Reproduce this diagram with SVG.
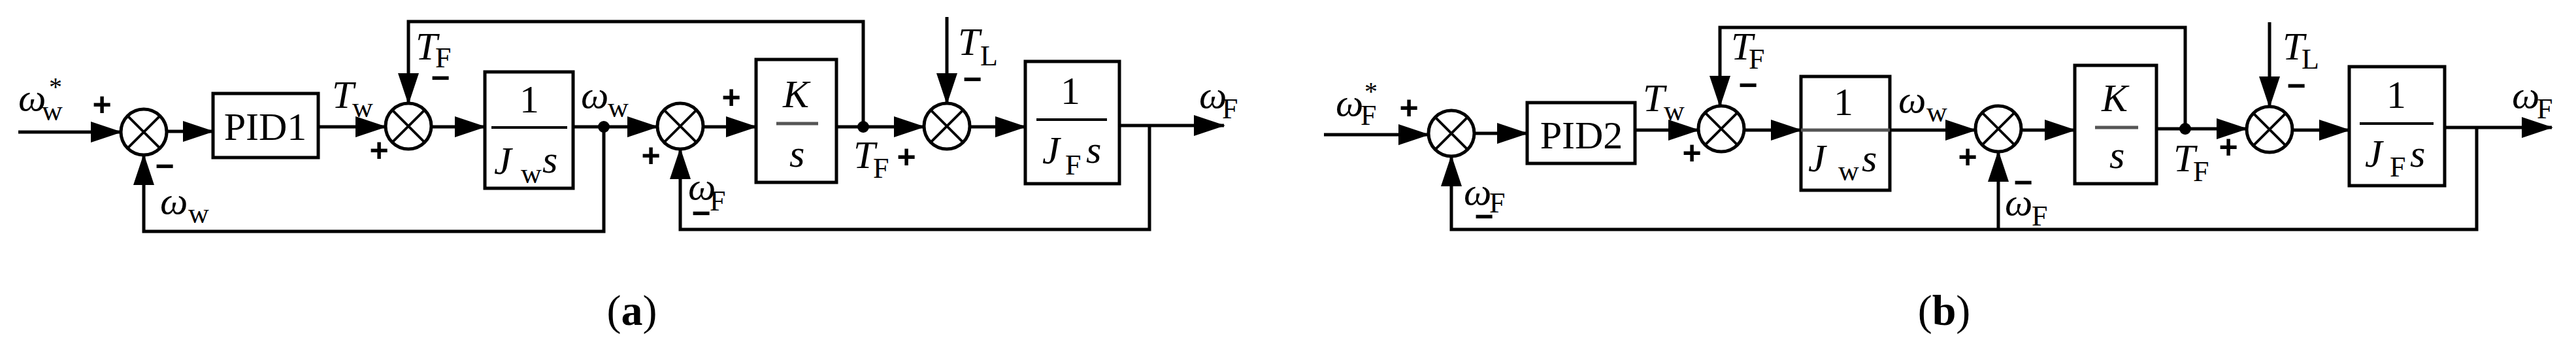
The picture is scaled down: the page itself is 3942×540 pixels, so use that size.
<svg xmlns="http://www.w3.org/2000/svg" xmlns:xlink="http://www.w3.org/1999/xlink" width="3942" height="540" viewBox="0 0 3942 540">
<style>
.ln{fill:none;stroke:#000;stroke-width:5}
.ar{marker-end:url(#ah)}
.box{fill:#fff;stroke:#000;stroke-width:5}
.fr{stroke:#000;stroke-width:4}
.frg{stroke:#555;stroke-width:5}
.t{font-family:"Liberation Serif","Times New Roman",serif;font-size:60px;fill:#000}
.i{font-style:italic}
.sb{font-size:44px;font-style:normal}
.st{font-size:40px;font-style:normal}
.sg{font-family:"Liberation Sans",Arial,sans-serif;font-size:50px;font-weight:bold;fill:#000;text-anchor:middle}
.cap{font-family:"Liberation Serif","Times New Roman",serif;font-size:66px;fill:#000;text-anchor:middle}
</style>
<defs>
<marker id="ah" markerUnits="userSpaceOnUse" markerWidth="48" markerHeight="32" refX="46" refY="16" orient="auto" overflow="visible">
<path d="M0,0 L48,16 L0,32 z" fill="#000"/>
</marker>
<g id="sumj">
<circle r="35" fill="#fff" stroke="#000" stroke-width="5"/>
<path d="M-24.7,-24.7 L24.7,24.7 M24.7,-24.7 L-24.7,24.7" stroke="#000" stroke-width="4"/>
</g>
</defs>
<rect width="3942" height="540" fill="#fff"/>

<!-- ===== (a) connectors ===== -->
<g id="a-connectors">
<path class="ln ar" d="M28,202 H185"/>
<path class="ln ar" d="M255,201 H326"/>
<path class="ln ar" d="M487,194 H590"/>
<path class="ln ar" d="M1321,194 V33 H625 V158"/>
<path class="ln ar" d="M660,194 H742"/>
<path class="ln ar" d="M877,194 H1006"/>
<path class="ln ar" d="M924,194 V354 H220 V237"/>
<path class="ln ar" d="M1076,194 H1157"/>
<path class="ln ar" d="M1280,194 H1414"/>
<path class="ln ar" d="M1449,26 V158"/>
<path class="ln ar" d="M1484,194 H1569"/>
<path class="ln ar" d="M1713,192 H1873"/>
<path class="ln ar" d="M1759,192 V351 H1041 V228"/>
<circle cx="924" cy="194" r="9" fill="#000"/>
<circle cx="1321" cy="194" r="9" fill="#000"/>
</g>

<!-- ===== (a) nodes ===== -->
<g id="a-sum1"><use xlink:href="#sumj" x="220" y="202"/></g>
<g id="a-pid1">
<rect class="box" x="326" y="143" width="161" height="98"/>
<text class="t" x="406" y="214" text-anchor="middle">PID1</text>
</g>
<g id="a-sum2"><use xlink:href="#sumj" x="625" y="193"/></g>
<g id="a-jw">
<rect class="box" x="742" y="110" width="135" height="178"/>
<line class="fr" x1="752" y1="195" x2="868" y2="195"/>
<text class="t" x="810" y="172" text-anchor="middle">1</text>
<text class="t"><tspan class="i" x="756" y="266">J</tspan><tspan class="sb" x="797" y="280">w</tspan><tspan class="i" x="830" y="264">s</tspan></text>
</g>
<g id="a-sum3"><use xlink:href="#sumj" x="1041" y="193"/></g>
<g id="a-ks">
<rect class="box" x="1157" y="91" width="123" height="188"/>
<line class="frg" x1="1188" y1="189" x2="1252" y2="189"/>
<text class="t i" x="1198" y="164">K</text>
<text class="t i" x="1208" y="255">s</text>
</g>
<g id="a-sum4"><use xlink:href="#sumj" x="1449" y="193"/></g>
<g id="a-jf">
<rect class="box" x="1569" y="94" width="144" height="187"/>
<line class="fr" x1="1586" y1="183" x2="1694" y2="183"/>
<text class="t" x="1638" y="159" text-anchor="middle">1</text>
<text class="t"><tspan class="i" x="1595" y="250">J</tspan><tspan class="sb" x="1630" y="267">F</tspan><tspan class="i" x="1662" y="249">s</tspan></text>
</g>

<!-- (a) labels -->
<g id="a-labels">
<text class="t"><tspan class="i" x="28" y="169">ω</tspan><tspan class="st" x="75" y="146">*</tspan><tspan class="sb" x="64" y="184">w</tspan></text>
<text class="sg" x="156" y="177">+</text>
<text class="sg" x="252" y="271">−</text>
<text class="t"><tspan class="i" x="245" y="327">ω</tspan><tspan class="sb" x="288" y="341">w</tspan></text>
<text class="t"><tspan class="i" x="508" y="165">T</tspan><tspan class="sb" x="539" y="179">w</tspan></text>
<text class="sg" x="580" y="247">+</text>
<text class="t"><tspan class="i" x="636" y="91">T</tspan><tspan class="sb" x="666" y="103">F</tspan></text>
<text class="sg" x="674" y="136">−</text>
<text class="t"><tspan class="i" x="889" y="165">ω</tspan><tspan class="sb" x="930" y="179">w</tspan></text>
<text class="sg" x="996" y="255">+</text>
<text class="sg" x="1119" y="166">+</text>
<text class="t"><tspan class="i" x="1053" y="305">ω</tspan><tspan class="sb" x="1086" y="322">F</tspan></text>
<text class="sg" x="1073" y="343">−</text>
<text class="t"><tspan class="i" x="1306" y="257">T</tspan><tspan class="sb" x="1336" y="272">F</tspan></text>
<text class="sg" x="1387" y="257">+</text>
<text class="t"><tspan class="i" x="1466" y="84">T</tspan><tspan class="sb" x="1500" y="100">L</tspan></text>
<text class="sg" x="1488" y="138">−</text>
<text class="t"><tspan class="i" x="1835" y="165">ω</tspan><tspan class="sb" x="1870" y="181">F</tspan></text>
<text class="cap" x="967" y="497">(<tspan font-weight="bold">a</tspan>)</text>
</g>

<!-- ===== (b) connectors ===== -->
<g id="b-connectors">
<path class="ln ar" d="M2026,206 H2186"/>
<path class="ln ar" d="M2256,204 H2337"/>
<path class="ln ar" d="M2502,199 H2599"/>
<path class="ln ar" d="M3344,198 V42 H2632 V162"/>
<path class="ln ar" d="M2669,199 H2756"/>
<path class="ln ar" d="M2892,199 H3023"/>
<path class="ln ar" d="M3093,199 H3175"/>
<path class="ln ar" d="M3300,197 H3438"/>
<path class="ln ar" d="M3473,34 V163"/>
<path class="ln ar" d="M3508,199 H3595"/>
<path class="ln ar" d="M3741,195 H3905"/>
<path class="ln ar" d="M3790,195 V351 H2221 V239"/>
<path class="ln ar" d="M3058,351 V232"/>
<circle cx="3344" cy="197" r="9" fill="#000"/>
</g>

<!-- ===== (b) nodes ===== -->
<g id="b-sum1"><use xlink:href="#sumj" x="2221" y="204"/></g>
<g id="b-pid2">
<rect class="box" x="2337" y="157" width="165" height="93"/>
<text class="t" x="2420" y="227" text-anchor="middle">PID2</text>
</g>
<g id="b-sum2"><use xlink:href="#sumj" x="2634" y="197"/></g>
<g id="b-jw">
<rect class="box" x="2756" y="117" width="136" height="174"/>
<line class="frg" x1="2756" y1="199" x2="2892" y2="199"/>
<text class="t" x="2821" y="176" text-anchor="middle">1</text>
<text class="t"><tspan class="i" x="2767" y="262">J</tspan><tspan class="sb" x="2813" y="276">w</tspan><tspan class="i" x="2849" y="262">s</tspan></text>
</g>
<g id="b-sum3"><use xlink:href="#sumj" x="3058" y="197"/></g>
<g id="b-ks">
<rect class="box" x="3175" y="100" width="125" height="181"/>
<line class="frg" x1="3206" y1="195" x2="3272" y2="195"/>
<text class="t i" x="3216" y="170">K</text>
<text class="t i" x="3228" y="257">s</text>
</g>
<g id="b-sum4"><use xlink:href="#sumj" x="3473" y="198"/></g>
<g id="b-jf">
<rect class="box" x="3595" y="102" width="146" height="182"/>
<line class="fr" x1="3611" y1="189" x2="3724" y2="189"/>
<text class="t" x="3667" y="165" text-anchor="middle">1</text>
<text class="t"><tspan class="i" x="3619" y="255">J</tspan><tspan class="sb" x="3657" y="270">F</tspan><tspan class="i" x="3688" y="255">s</tspan></text>
</g>

<!-- (b) labels -->
<g id="b-labels">
<text class="t"><tspan class="i" x="2044" y="177">ω</tspan><tspan class="st" x="2088" y="153">*</tspan><tspan class="sb" x="2082" y="191">F</tspan></text>
<text class="sg" x="2156" y="182">+</text>
<text class="t"><tspan class="i" x="2240" y="313">ω</tspan><tspan class="sb" x="2279" y="325">F</tspan></text>
<text class="sg" x="2271" y="348">−</text>
<text class="t"><tspan class="i" x="2514" y="170">T</tspan><tspan class="sb" x="2546" y="184">w</tspan></text>
<text class="sg" x="2589" y="251">+</text>
<text class="t"><tspan class="i" x="2649" y="91">T</tspan><tspan class="sb" x="2676" y="105">F</tspan></text>
<text class="sg" x="2675" y="147">−</text>
<text class="t"><tspan class="i" x="2905" y="172">ω</tspan><tspan class="sb" x="2948" y="186">w</tspan></text>
<text class="sg" x="3011" y="257">+</text>
<text class="sg" x="3096" y="296">−</text>
<text class="t"><tspan class="i" x="3068" y="329">ω</tspan><tspan class="sb" x="3109" y="345">F</tspan></text>
<text class="t"><tspan class="i" x="3326" y="262">T</tspan><tspan class="sb" x="3356" y="277">F</tspan></text>
<text class="sg" x="3410" y="242">+</text>
<text class="t"><tspan class="i" x="3493" y="91">T</tspan><tspan class="sb" x="3522" y="105">L</tspan></text>
<text class="sg" x="3514" y="148">−</text>
<text class="t"><tspan class="i" x="3844" y="165">ω</tspan><tspan class="sb" x="3882" y="181">F</tspan></text>
<text class="cap" x="2975" y="497">(<tspan font-weight="bold">b</tspan>)</text>
</g>
</svg>
